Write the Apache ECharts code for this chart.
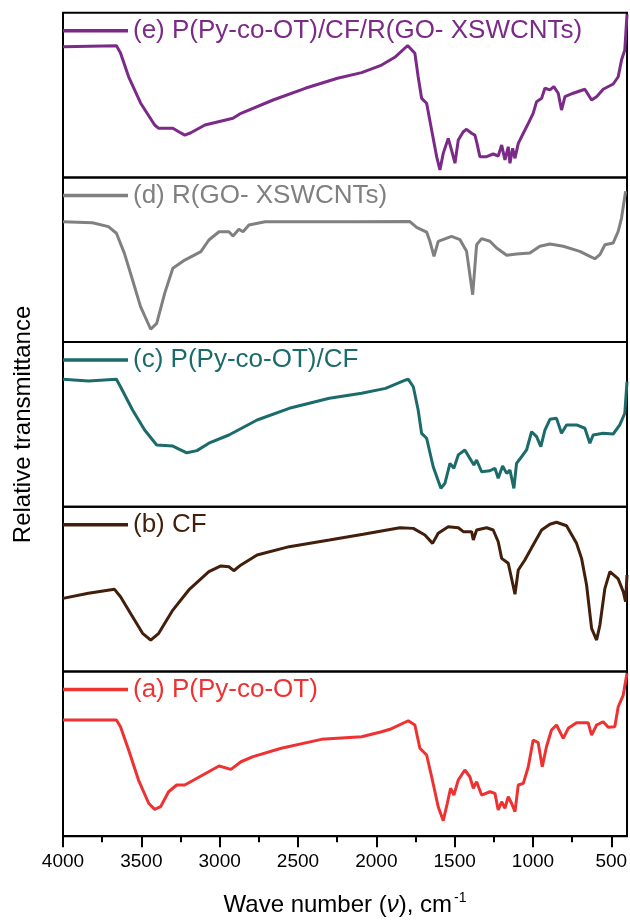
<!DOCTYPE html>
<html><head><meta charset="utf-8">
<script src="https://cdn.jsdelivr.net/npm/echarts@6/dist/echarts.min.js"></script>
<style>html,body{margin:0;padding:0;background:#fff}#c{width:630px;height:920px}</style>
</head><body><div id="c"></div>
<script>
// Series labels (top to bottom panels)
const labels = ['(e) P(Py-co-OT)/CF/R(GO- XSWCNTs)', '(d) R(GO- XSWCNTs)', '(c) P(Py-co-OT)/CF', '(b) CF', '(a) P(Py-co-OT)'];
const colors = ['#7b2a88', '#808080', '#1c6b6b', '#421f0b', '#ee3232'];

// x tick labels
const majorTicks = [4000, 3500, 3000, 2500, 2000, 1500, 1000, 500];
const minorTicks = [3750, 3250, 2750, 2250, 1750, 1250, 750];

// (e) P(Py-co-OT)/CF/R(GO- XSWCNTs)
const waveE = [4000,3659,3633,3581,3505,3415,3389,3299,3261,3223,3184,3094,2915,2864,2659,2454,2248,2094,1966,1877,1800,1754,1733,1711,1679,1647,1615,1594,1573,1541,1520,1498,1477,1445,1424,1392,1371,1360,1339,1296,1254,1222,1200,1179,1158,1147,1130,1115,1094,1062,1030,999,977,945,924,892,867,839,818,796,743,669,626,594,552,488,456,435,414,400];
const transE = [79.4,80.0,75.5,61.1,45.2,31.8,29.8,29.8,27.7,25.7,27.1,31.8,35.9,38.9,47.0,54.1,60.2,63.6,68.2,73.3,80.1,75.4,61.1,48.0,45.0,28.8,12.6,4.5,14.6,23.7,16.6,8.6,22.7,27.7,29.2,26.8,25.7,21.7,12.6,12.6,14.2,13.0,19.7,10.6,18.6,8.6,17.7,11.6,20.7,26.8,32.8,38.9,46.0,48.0,54.1,53.1,55.1,51.1,40.9,49.0,51.1,53.5,47.0,49.0,53.5,56.7,61.1,71.3,77.4,99.0];

// (d) R(GO- XSWCNTs)
const waveD = [4000,3812,3710,3659,3608,3556,3505,3440,3402,3351,3299,3223,3120,3069,3004,2941,2915,2877,2851,2813,2710,2146,1786,1743,1679,1658,1632,1605,1520,1466,1424,1385,1360,1328,1275,1232,1168,1105,1020,956,892,807,701,637,605,573,541,488,456,435,409];
const transD = [73.1,72.5,70.1,66.1,53.9,37.7,21.5,7.8,11.4,29.6,44.8,49.8,54.9,62.0,67.0,67.0,64.4,68.5,67.0,71.1,73.1,73.1,73.2,69.7,66.8,61.2,52.1,61.2,64.2,62.2,55.1,28.8,59.1,62.8,61.2,57.1,52.7,53.5,54.1,58.2,59.6,58.2,55.1,52.1,50.6,53.1,59.1,60.2,67.3,75.3,91.6];

// (c) P(Py-co-OT)/CF
const waveC = [4000,3838,3659,3633,3556,3479,3402,3299,3210,3145,3069,2941,2761,2556,2300,2094,1941,1812,1796,1764,1733,1711,1679,1637,1588,1562,1530,1505,1477,1435,1403,1377,1360,1328,1275,1243,1222,1194,1168,1147,1122,1105,1073,1041,1009,977,950,924,892,850,818,786,722,669,637,616,552,488,446,414,400];
const transC = [77.4,76.4,77.4,72.9,58.8,46.6,37.5,36.9,32.8,34.1,38.6,43.6,52.7,59.8,65.9,68.9,71.9,77.0,77.4,72.9,58.8,44.6,41.6,24.3,11.2,14.3,26.4,23.4,31.5,34.5,29.4,25.4,28.4,21.3,21.9,23.4,17.3,24.8,20.3,22.3,11.2,26.4,30.4,34.5,45.6,42.6,36.5,46.6,53.1,53.7,44.6,49.7,49.7,47.7,38.6,43.6,44.6,44.2,49.7,56.8,76.0];

// (b) CF
const waveB = [4000,3838,3671,3633,3556,3492,3440,3389,3299,3197,3069,2992,2941,2910,2864,2761,2556,2300,2084,1850,1764,1690,1641,1605,1541,1477,1445,1392,1381,1360,1296,1254,1222,1200,1158,1137,1115,1094,1052,999,945,892,850,786,722,690,658,626,594,573,541,509,456,424,409,400];
const transB = [44.4,47.5,49.9,45.4,33.3,23.2,19.1,23.2,37.3,49.5,60.6,64.1,63.6,61.2,64.7,70.7,75.8,79.8,83.3,87.3,86.9,82.9,77.8,83.9,87.9,87.3,84.9,84.9,79.8,85.9,87.3,85.9,78.8,68.7,65.7,56.6,46.9,61.6,67.7,76.8,85.9,89.4,90.6,88.5,77.8,68.7,52.5,26.2,19.1,28.2,50.5,60.6,56.2,48.5,42.4,58.6];

// (a) P(Py-co-OT)
const waveA = [4000,3659,3633,3581,3518,3453,3415,3377,3326,3274,3223,3145,3004,2928,2864,2787,2607,2351,2094,1966,1913,1796,1754,1722,1679,1647,1605,1573,1547,1526,1505,1477,1435,1403,1381,1360,1328,1275,1243,1222,1200,1179,1158,1137,1115,1094,1062,1030,999,967,941,914,882,850,807,775,722,648,626,594,552,520,478,456,424,400];
const transA = [70.6,70.6,66.5,52.3,34.1,20.0,16.3,17.9,27.0,31.1,31.1,35.2,42.6,40.6,45.2,48.3,53.4,58.8,60.4,63.4,64.9,70.1,67.5,53.4,49.3,36.1,17.9,9.4,20.0,29.1,25.0,34.1,40.2,36.1,29.1,33.1,25.0,27.0,26.0,15.9,20.9,16.9,24.0,20.0,14.9,31.1,32.1,42.2,58.4,56.8,42.2,54.3,64.5,67.5,59.4,65.5,68.9,68.9,61.4,67.5,69.5,66.1,66.5,78.6,85.7,98.9];

const waves = [waveE, waveD, waveC, waveB, waveA];
const trans = [transE, transD, transC, transB, transA];

const chart = echarts.init(document.getElementById('c'), null, {renderer: 'canvas'});
const TOP = 12.7, PH = 164.7, LEFT = 63, RIGHT = 3;
const FONT = 'Liberation Sans, Arial, sans-serif';

const grids = [], xAxes = [], yAxes = [], series = [], legends = [];
for (let i = 0; i < 5; i++) {
  grids.push({left: LEFT, right: RIGHT, top: TOP + i * PH, height: PH, show: true, borderColor: '#000', borderWidth: 2,
    backgroundColor: 'transparent', containLabel: false, outerBoundsMode: 'none'});
  const isBottom = i === 4;
  xAxes.push({
    type: 'value', gridIndex: i, min: 400, max: 4000, inverse: true,
    axisLine: {show: isBottom, onZero: false, lineStyle: {color: '#000', width: 2}},
    axisTick: {show: false},
    axisLabel: {show: isBottom, customValues: majorTicks, margin: 16, color: '#000', fontFamily: FONT, fontSize: 19,
      formatter: v => String(v)},
    splitLine: {show: false},
    name: isBottom ? '{n|Wave number (}{i|ν}{n|), cm}{s|-1}' : '',
    nameLocation: 'middle', nameGap: 55,
    nameTextStyle: {rich: {
      n: {fontFamily: FONT, fontSize: 24, color: '#000'},
      i: {fontFamily: FONT, fontSize: 24, fontStyle: 'italic', color: '#000'},
      s: {fontFamily: FONT, fontSize: 14, color: '#000', padding: [0, 0, 14, 2]}
    }}
  });
  const isMid = i === 2;
  yAxes.push({
    type: 'value', gridIndex: i, min: 0, max: 100,
    axisLine: {show: false}, axisTick: {show: false}, axisLabel: {show: false}, splitLine: {show: false},
    name: isMid ? 'Relative transmittance' : '', nameLocation: 'middle', nameRotate: 90, nameGap: 28,
    nameTextStyle: {fontFamily: FONT, fontSize: 24, color: '#000'}
  });
  series.push({
    name: labels[i], type: 'line', xAxisIndex: i, yAxisIndex: i,
    data: waves[i].map((w, k) => [w, trans[i][k]]),
    showSymbol: false, symbol: 'none', smooth: false,
    lineStyle: {color: colors[i], width: 3}, itemStyle: {color: colors[i]},
    clip: true, animation: false
  });
  legends.push({
    data: [labels[i]], left: LEFT, top: TOP + i * PH + 5, padding: 0,
    icon: 'rect', itemWidth: 65, itemHeight: 3.5, itemGap: 0, selectedMode: false,
    textStyle: {color: colors[i], fontFamily: FONT, fontSize: 26}
  });
}
// major ticks on bottom axis
xAxes.push({
  type: 'value', gridIndex: 4, min: 400, max: 4000, inverse: true, position: 'bottom',
  axisLine: {show: false}, axisLabel: {show: false}, splitLine: {show: false},
  axisTick: {show: true, length: 11, customValues: majorTicks, lineStyle: {color: '#000', width: 2}}
});
// minor ticks on bottom axis
xAxes.push({
  type: 'value', gridIndex: 4, min: 400, max: 4000, inverse: true, position: 'bottom',
  axisLine: {show: false}, axisLabel: {show: false}, splitLine: {show: false},
  axisTick: {show: true, length: 6, customValues: minorTicks, lineStyle: {color: '#000', width: 2}}
});

chart.setOption({
  animation: false,
  grid: grids, xAxis: xAxes, yAxis: yAxes, series: series, legend: legends
});
</script></body></html>
